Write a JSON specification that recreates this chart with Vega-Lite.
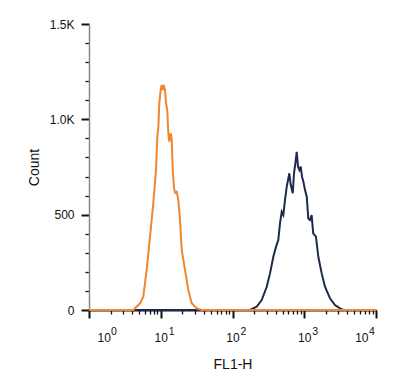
{
  "$schema": "https://vega.github.io/schema/vega-lite/v6.json",
  "width": 287,
  "height": 286,
  "autosize": "none",
  "padding": {"left": 89, "top": 24, "right": 38, "bottom": 74},
  "config": {
    "view": {"stroke": null},
    "font": "Liberation Sans",
    "axis": {"grid": false, "labelFont": "Liberation Sans", "titleFont": "Liberation Sans", "titleFontWeight": "normal", "labelColor": "#111", "titleColor": "#111"}
  },
  "datasets": {
    "orange": [
      {"x": 1, "c": 0}, {"x": 4.14, "c": 0}, {"x": 5.14, "c": 35}, {"x": 5.71, "c": 70}, {"x": 6.37, "c": 210},
      {"x": 7.08, "c": 384}, {"x": 7.87, "c": 560}, {"x": 8.59, "c": 734}, {"x": 8.95, "c": 909}, {"x": 9.25, "c": 955},
      {"x": 9.55, "c": 1086}, {"x": 9.98, "c": 1154}, {"x": 10.3, "c": 1180}, {"x": 10.64, "c": 1154}, {"x": 10.99, "c": 1180},
      {"x": 11.46, "c": 1154}, {"x": 11.83, "c": 1086}, {"x": 12.33, "c": 1049}, {"x": 12.74, "c": 928}, {"x": 13.15, "c": 883},
      {"x": 13.77, "c": 928}, {"x": 14.22, "c": 892}, {"x": 14.69, "c": 734}, {"x": 15.31, "c": 640}, {"x": 15.81, "c": 614},
      {"x": 16.67, "c": 620}, {"x": 17.58, "c": 577}, {"x": 18.54, "c": 472}, {"x": 19.59, "c": 315}, {"x": 21.78, "c": 210},
      {"x": 24.21, "c": 105}, {"x": 26.98, "c": 35}, {"x": 31.7, "c": 9}, {"x": 37.2, "c": 0}, {"x": 10000, "c": 0}
    ],
    "navy": [
      {"x": 1, "c": 0}, {"x": 175.4, "c": 0}, {"x": 217.3, "c": 17}, {"x": 255.3, "c": 52}, {"x": 299.9, "c": 122},
      {"x": 333.4, "c": 192}, {"x": 370.7, "c": 279}, {"x": 403.6, "c": 331}, {"x": 434.5, "c": 367}, {"x": 459.2, "c": 454},
      {"x": 485.3, "c": 515}, {"x": 510.5, "c": 498}, {"x": 539.5, "c": 577}, {"x": 570.2, "c": 647}, {"x": 619.4, "c": 717},
      {"x": 648.6, "c": 655}, {"x": 691.8, "c": 612}, {"x": 719.5, "c": 717}, {"x": 751.6, "c": 769}, {"x": 785.2, "c": 830},
      {"x": 818.5, "c": 752}, {"x": 855.1, "c": 734}, {"x": 893.1, "c": 752}, {"x": 931.1, "c": 699}, {"x": 972.7, "c": 673},
      {"x": 1025.6, "c": 629}, {"x": 1083.9, "c": 594}, {"x": 1137.6, "c": 480}, {"x": 1202.3, "c": 472}, {"x": 1267.6, "c": 498},
      {"x": 1333.5, "c": 402}, {"x": 1455.5, "c": 385}, {"x": 1570.4, "c": 279}, {"x": 1749.9, "c": 192}, {"x": 1945.4, "c": 122},
      {"x": 2285.6, "c": 61}, {"x": 2679.2, "c": 26}, {"x": 3147.7, "c": 9}, {"x": 3499.5, "c": 0}, {"x": 10000, "c": 0}
    ],
    "exps": [
      {"x": 1, "c": 0, "e": "0"}, {"x": 10, "c": 0, "e": "1"}, {"x": 100, "c": 0, "e": "2"}, {"x": 1000, "c": 0, "e": "3"}, {"x": 10000, "c": 0, "e": "4"}
    ]
  },
  "encoding": {
    "x": {
      "field": "x", "type": "quantitative",
      "scale": {"type": "log", "domain": [1, 10000], "nice": false},
      "axis": {
        "title": "FL1-H", "titleFontSize": 14, "titlePadding": 14,
        "values": [1,2,3,4,5,6,7,8,9,10,20,30,40,50,60,70,80,90,100,200,300,400,500,600,700,800,900,1000,2000,3000,4000,5000,6000,7000,8000,9000,10000],
        "labelExpr": "indexof([1,10,100,1000,10000], datum.value) >= 0 ? '10' : ''",
        "labelOverlap": false, "labelFlush": true, "labelFlushOffset": -8,
        "labelFontSize": 12, "labelPadding": 14,
        "domainColor": "#111", "domainWidth": 2,
        "tickColor": "#111",
        "tickSize": {"condition": {"test": "indexof([1,10,100,1000,10000], datum.value) >= 0", "value": 8}, "value": 4},
        "tickWidth": {"condition": {"test": "indexof([1,10,100,1000,10000], datum.value) >= 0", "value": 2}, "value": 1.3}
      }
    },
    "y": {
      "field": "c", "type": "quantitative",
      "scale": {"domain": [0, 1500], "nice": false},
      "axis": {
        "title": "Count", "titleFontSize": 14, "titlePadding": 8,
        "values": [0,100,200,300,400,500,600,700,800,900,1000,1100,1200,1300,1400,1500],
        "labelExpr": "datum.value == 0 ? '0' : datum.value == 500 ? '500' : datum.value == 1000 ? '1.0K' : datum.value == 1500 ? '1.5K' : ''",
        "labelOverlap": false, "labelFontSize": 12, "labelPadding": 7,
        "domainColor": "#888", "domainWidth": 1.5,
        "tickColor": "#111",
        "tickSize": {"condition": {"test": "datum.value % 500 === 0", "value": 8}, "value": 4},
        "tickWidth": {"condition": {"test": "datum.value % 500 === 0", "value": 2}, "value": 1.3}
      }
    }
  },
  "layer": [
    {"data": {"name": "navy"}, "mark": {"type": "line", "color": "#1c2b4a", "strokeWidth": 2}},
    {"data": {"name": "orange"}, "mark": {"type": "line", "color": "#f0862e", "strokeWidth": 2}},
    {"data": {"name": "exps"}, "transform": [{"filter": "datum.x == 1"}], "mark": {"type": "text", "align": "left", "baseline": "alphabetic", "dx": 22, "dy": 25, "fontSize": 10.5, "font": "Liberation Sans", "color": "#111"}, "encoding": {"text": {"field": "e"}}},
    {"data": {"name": "exps"}, "transform": [{"filter": "datum.x > 1 && datum.x < 10000"}], "mark": {"type": "text", "align": "left", "baseline": "alphabetic", "dx": 8, "dy": 25, "fontSize": 10.5, "font": "Liberation Sans", "color": "#111"}, "encoding": {"text": {"field": "e"}}},
    {"data": {"name": "exps"}, "transform": [{"filter": "datum.x == 10000"}], "mark": {"type": "text", "align": "left", "baseline": "alphabetic", "dx": -7, "dy": 25, "fontSize": 10.5, "font": "Liberation Sans", "color": "#111"}, "encoding": {"text": {"field": "e"}}}
  ]
}
